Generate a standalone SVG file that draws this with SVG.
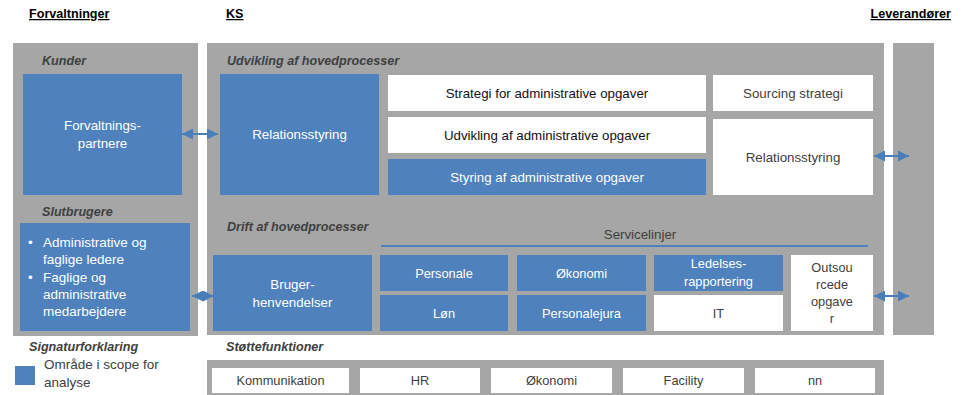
<svg xmlns="http://www.w3.org/2000/svg" width="961" height="395" viewBox="0 0 961 395">
  <defs>
    <style>
      .panel { fill: #A6A6A6; }
      .blue { fill: #4F81BD; }
      .white { fill: #FFFFFF; }
      text { font-family: "Liberation Sans", Arial, sans-serif; }
      .hdr { font-size: 12.6px; font-weight: bold; fill: #000; text-decoration: underline; }
      .sec { font-size: 12.6px; font-weight: bold; font-style: italic; fill: #404040; }
      .lb { font-size: 13.3px; text-anchor: middle; }
      .sm { font-size: 12.8px; text-anchor: middle; }
      .on-blue { fill: #FFFFFF; }
      .on-white { fill: #404040; }
      .dark { fill: #111111; }
      .list { font-size: 13.5px; fill: #FFFFFF; }
      .legend-text { font-size: 13.5px; fill: #404040; }
      .conn { stroke: #4A7EBB; stroke-width: 2; fill: none; marker-start: url(#head); marker-end: url(#head); }
    </style>
    <marker id="head" viewBox="0 0 11 11" refX="11" refY="5.5" markerWidth="11" markerHeight="11" markerUnits="userSpaceOnUse" orient="auto-start-reverse">
      <path d="M0,0 L11,5.5 L0,11 Z" fill="#4A7EBB"/>
    </marker>
  </defs>

  <rect width="961" height="395" fill="#FFFFFF"/>

  <!-- column headings -->
  <g id="headings">
    <text class="hdr" x="29" y="18">Forvaltninger</text>
    <text class="hdr" x="226" y="18">KS</text>
    <text class="hdr" x="951" y="18" text-anchor="end">Leverandører</text>
  </g>

  <!-- background panels -->
  <g id="panels">
    <rect class="panel" x="13" y="43" width="185" height="293"/>
    <rect class="panel" x="207" y="43" width="677" height="292"/>
    <rect class="panel" x="893" y="43" width="41" height="292"/>
    <rect class="panel" x="207" y="360" width="677" height="35"/>
  </g>

  <!-- section labels -->
  <g id="section-labels">
    <text class="sec" x="42" y="65">Kunder</text>
    <text class="sec" x="227" y="65">Udvikling af hovedprocesser</text>
    <text class="sec" x="42" y="216">Slutbrugere</text>
    <text class="sec" x="227" y="231">Drift af hovedprocesser</text>
    <text class="sec" x="29" y="351">Signaturforklaring</text>
    <text class="sec" x="226" y="351">Støttefunktioner</text>
  </g>

  <!-- customers -->
  <g id="forvaltningspartnere">
    <rect class="blue" x="23" y="74" width="159" height="121"/>
    <text class="lb on-blue" x="102.5" y="130">Forvaltnings-</text>
    <text class="lb on-blue" x="102.5" y="148">partnere</text>
  </g>

  <g id="slutbrugere">
    <rect class="blue" x="20" y="223" width="170" height="108"/>
    <text class="list" x="28" y="247">•</text>
    <text class="list" x="43" y="247">Administrative og</text>
    <text class="list" x="43" y="264">faglige ledere</text>
    <text class="list" x="28" y="282">•</text>
    <text class="list" x="43" y="282">Faglige og</text>
    <text class="list" x="43" y="299">administrative</text>
    <text class="list" x="43" y="316">medarbejdere</text>
  </g>

  <!-- development of main processes -->
  <g id="relationsstyring-ks">
    <rect class="blue" x="220" y="74" width="159" height="121"/>
    <text class="lb on-blue" x="299.5" y="139">Relationsstyring</text>
  </g>

  <g id="strategi">
    <rect class="white" x="388" y="75" width="318" height="36"/>
    <text class="lb dark" x="547" y="98">Strategi for administrative opgaver</text>
  </g>

  <g id="udvikling">
    <rect class="white" x="388" y="117" width="318" height="36"/>
    <text class="lb dark" x="547" y="140">Udvikling af administrative opgaver</text>
  </g>

  <g id="styring">
    <rect class="blue" x="388" y="159" width="318" height="36"/>
    <text class="lb on-blue" x="547" y="182">Styring af administrative opgaver</text>
  </g>

  <g id="sourcing-strategi">
    <rect class="white" x="713" y="75" width="160" height="36"/>
    <text class="lb on-white" x="793" y="98">Sourcing strategi</text>
  </g>

  <g id="relationsstyring-leverandor">
    <rect class="white" x="713" y="119" width="160" height="76"/>
    <text class="lb on-white" x="793" y="162">Relationsstyring</text>
  </g>

  <!-- operation of main processes -->
  <g id="brugerhenvendelser">
    <rect class="blue" x="213" y="255" width="159" height="76"/>
    <text class="lb on-blue" x="292.5" y="289">Bruger-</text>
    <text class="lb on-blue" x="292.5" y="307">henvendelser</text>
  </g>

  <g id="servicelinjer">
    <text class="lb on-white" x="640" y="239">Servicelinjer</text>
    <line x1="381" y1="246" x2="868" y2="246" stroke="#4F81BD" stroke-width="2"/>
  </g>

  <g id="personale">
    <rect class="blue" x="380" y="255" width="128" height="36"/>
    <text class="sm on-blue" x="444" y="278">Personale</text>
  </g>

  <g id="okonomi-drift">
    <rect class="blue" x="517" y="255" width="129" height="36"/>
    <text class="sm on-blue" x="581.5" y="278">Økonomi</text>
  </g>

  <g id="ledelsesrapportering">
    <rect class="blue" x="654" y="255" width="129" height="36"/>
    <text class="sm on-blue" x="718.5" y="268">Ledelses-</text>
    <text class="sm on-blue" x="718.5" y="286">rapportering</text>
  </g>

  <g id="lon">
    <rect class="blue" x="380" y="295" width="128" height="36"/>
    <text class="sm on-blue" x="444" y="318">Løn</text>
  </g>

  <g id="personalejura">
    <rect class="blue" x="517" y="295" width="129" height="36"/>
    <text class="sm on-blue" x="581.5" y="318">Personalejura</text>
  </g>

  <g id="it">
    <rect class="white" x="654" y="295" width="129" height="36"/>
    <text class="sm on-white" x="718.5" y="318">IT</text>
  </g>

  <g id="outsourcede-opgaver">
    <rect class="white" x="791" y="255" width="82" height="76"/>
    <text class="sm on-white" x="832" y="272">Outsou</text>
    <text class="sm on-white" x="832" y="289">rcede</text>
    <text class="sm on-white" x="832" y="306">opgave</text>
    <text class="sm on-white" x="832" y="323">r</text>
  </g>

  <!-- support functions -->
  <g id="kommunikation">
    <rect class="white" x="212" y="368" width="137" height="25"/>
    <text class="sm on-white" x="280.5" y="385">Kommunikation</text>
  </g>
  <g id="hr">
    <rect class="white" x="360" y="368" width="120" height="25"/>
    <text class="sm on-white" x="420" y="385">HR</text>
  </g>
  <g id="okonomi-stotte">
    <rect class="white" x="491" y="368" width="121" height="25"/>
    <text class="sm on-white" x="551.5" y="385">Økonomi</text>
  </g>
  <g id="facility">
    <rect class="white" x="623" y="368" width="121" height="25"/>
    <text class="sm on-white" x="683.5" y="385">Facility</text>
  </g>
  <g id="nn">
    <rect class="white" x="755" y="368" width="120" height="25"/>
    <text class="sm on-white" x="815" y="385">nn</text>
  </g>

  <!-- legend -->
  <g id="legend">
    <rect class="blue" x="15" y="366" width="20" height="19"/>
    <text class="legend-text" x="44" y="369">Område i scope for</text>
    <text class="legend-text" x="44" y="387">analyse</text>
  </g>

  <!-- two-way connectors -->
  <g id="connectors">
    <line class="conn" x1="182" y1="134" x2="218" y2="134"/>
    <line class="conn" x1="192" y1="296" x2="214" y2="296"/>
    <line class="conn" x1="874" y1="156" x2="909" y2="156"/>
    <line class="conn" x1="874" y1="296" x2="909" y2="296"/>
  </g>
</svg>
